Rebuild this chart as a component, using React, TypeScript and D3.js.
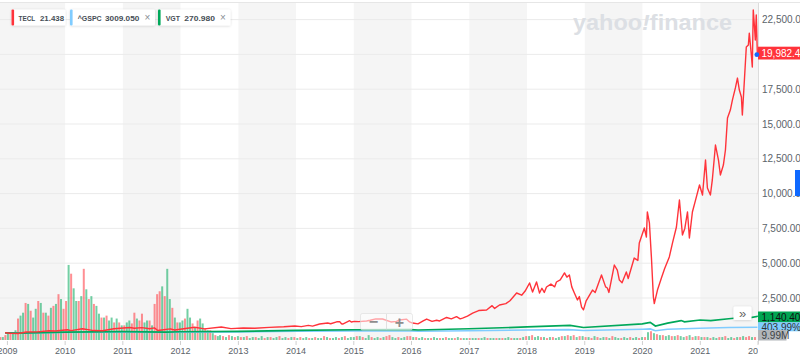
import React from 'react';
import * as d3 from 'd3';

// ---------- DATA ----------
const yearTicks = [2009, 2010, 2011, 2012, 2013, 2014, 2015, 2016, 2017, 2018, 2019, 2020, 2021, 2022];
const yTickValues = [2500, 5000, 7500, 10000, 12500, 15000, 17500, 20000, 22500];

const legendNames = ['TECL', '^GSPC', 'VGT'];
const legendValues = ['21.438', '3009.050', '270.980'];

// % change series
const tecl: [string, number][] = [
  ['2008-12-17', 0], ['2009-01-20', -30], ['2009-03-09', -50], ['2009-05-01', 60], ['2009-07-10', 70],
  ['2009-09-20', 150], ['2009-11-01', 130], ['2010-01-15', 220], ['2010-02-08', 160], ['2010-04-20', 290],
  ['2010-07-01', 160], ['2010-08-25', 150], ['2010-11-05', 290], ['2011-02-15', 380], ['2011-03-15', 330],
  ['2011-05-01', 370], ['2011-06-20', 290], ['2011-07-20', 350], ['2011-08-10', 170], ['2011-10-28', 280],
  ['2011-11-25', 200], ['2012-03-30', 400], ['2012-06-01', 280], ['2012-09-15', 420], ['2012-11-15', 300],
  ['2013-02-01', 350], ['2013-04-15', 330], ['2013-07-15', 390], ['2013-10-15', 430], ['2013-12-24', 490],
  ['2014-02-03', 440], ['2014-03-20', 530], ['2014-04-15', 480], ['2014-05-30', 630], ['2014-07-20', 700],
  ['2014-08-08', 650], ['2014-09-15', 790], ['2014-10-04', 800], ['2014-10-15', 650], ['2014-10-23', 630],
  ['2014-12-06', 870], ['2014-12-16', 780], ['2015-01-05', 820], ['2015-02-01', 800], ['2015-03-23', 850],
  ['2015-04-15', 900], ['2015-05-20', 1000], ['2015-07-02', 990], ['2015-08-24', 780], ['2015-09-28', 820],
  ['2015-10-18', 920], ['2015-12-01', 980], ['2015-12-20', 780], ['2016-01-08', 700], ['2016-02-11', 640],
  ['2016-03-15', 850], ['2016-04-06', 990], ['2016-05-10', 820], ['2016-06-08', 900], ['2016-06-27', 850],
  ['2016-08-10', 1100], ['2016-09-09', 1000], ['2016-10-12', 1160], ['2016-11-04', 1000], ['2016-11-19', 1060],
  ['2016-12-20', 1200], ['2017-01-22', 1420], ['2017-03-01', 1600], ['2017-04-20', 1640], ['2017-05-25', 1950],
  ['2017-06-10', 1750], ['2017-07-11', 2000], ['2017-08-20', 2100], ['2017-09-15', 2300], ['2017-10-27', 2860],
  ['2017-11-28', 2700], ['2017-12-20', 3000], ['2018-01-17', 3580], ['2018-02-05', 2930], ['2018-03-02', 3650],
  ['2018-03-21', 2860], ['2018-04-05', 3200], ['2018-04-20', 2900], ['2018-05-04', 3290], ['2018-06-01', 3500],
  ['2018-06-25', 3300], ['2018-07-06', 3650], ['2018-07-30', 3800], ['2018-08-26', 4300], ['2018-09-10', 4000],
  ['2018-09-26', 4150], ['2018-10-11', 3300], ['2018-10-26', 2900], ['2018-11-16', 2360], ['2018-11-28', 2600],
  ['2018-12-12', 1850], ['2018-12-24', 1650], ['2019-01-10', 2300], ['2019-02-19', 3070], ['2019-03-08', 2900],
  ['2019-04-17', 4150], ['2019-05-13', 3300], ['2019-05-24', 3220], ['2019-06-03', 2900], ['2019-07-07', 4870],
  ['2019-07-26', 4500], ['2019-08-08', 3790], ['2019-08-25', 3600], ['2019-09-21', 4370], ['2019-10-03', 3900],
  ['2019-11-10', 5370], ['2019-12-03', 5200], ['2019-12-12', 6450], ['2020-01-13', 7530], ['2020-01-26', 6880],
  ['2020-02-01', 8680], ['2020-02-14', 7900], ['2020-02-27', 5370], ['2020-03-10', 2600], ['2020-03-16', 2100],
  ['2020-04-05', 3070], ['2020-04-30', 3940], ['2020-05-20', 4600], ['2020-06-19', 5450], ['2020-07-10', 6500],
  ['2020-08-03', 7600], ['2020-08-22', 9540], ['2020-09-10', 7030], ['2020-09-25', 7500], ['2020-10-12', 8680],
  ['2020-10-24', 6810], ['2020-11-12', 8680], ['2020-12-01', 9500], ['2020-12-27', 10620], ['2021-01-15', 9900],
  ['2021-02-03', 12410], ['2021-02-15', 10400], ['2021-03-06', 9900], ['2021-03-18', 10980], ['2021-04-07', 13490],
  ['2021-04-26', 12410], ['2021-05-08', 11340], ['2021-05-27', 12050], ['2021-06-09', 13130], ['2021-06-22', 15430],
  ['2021-07-10', 16000], ['2021-07-23', 16720], ['2021-08-11', 17590], ['2021-08-24', 18300], ['2021-09-05', 17440],
  ['2021-09-18', 16940], ['2021-09-24', 15650], ['2021-10-07', 18160], ['2021-10-19', 20530], ['2021-11-01', 20670],
  ['2021-11-07', 21530], ['2021-11-20', 19950], ['2021-11-26', 19090], ['2021-12-02', 23190], ['2021-12-09', 22110],
  ['2021-12-15', 21030], ['2021-12-21', 22830], ['2021-12-28', 19982],
];

const gspc: [string, number][] = [
  ['2008-12-17', 0], ['2009-03-09', -25], ['2009-12-31', 26], ['2010-12-31', 42], ['2011-10-03', 23],
  ['2011-12-31', 42], ['2012-12-31', 62], ['2013-12-31', 114], ['2014-12-31', 135], ['2015-12-31', 133],
  ['2016-02-11', 110], ['2016-12-31', 150], ['2017-12-31', 200], ['2018-09-20', 230], ['2018-12-24', 165],
  ['2019-12-31', 260], ['2020-02-19', 280], ['2020-03-23', 150], ['2020-06-08', 250], ['2020-12-31', 325],
  ['2021-06-30', 385], ['2021-12-28', 404],
];

const vgt: [string, number][] = [
  ['2008-12-17', 0], ['2009-03-09', -20], ['2009-12-31', 50], ['2010-12-31', 80], ['2011-10-03', 55],
  ['2011-12-31', 75], ['2012-12-31', 105], ['2013-12-31', 170], ['2014-12-31', 220], ['2015-12-31', 235],
  ['2016-02-11', 200], ['2016-12-31', 290], ['2017-12-31', 420], ['2018-09-30', 530], ['2018-12-24', 380],
  ['2019-12-31', 640], ['2020-02-19', 750], ['2020-03-23', 490], ['2020-06-08', 700], ['2020-09-02', 880],
  ['2020-09-23', 790], ['2020-12-31', 920], ['2021-03-08', 880], ['2021-06-30', 1010], ['2021-09-03', 1080],
  ['2021-10-04', 1000], ['2021-12-27', 1170], ['2021-12-28', 1140],
];

// volume (millions); sign = day direction (+ up / - down)
const volumeEarlyStart = '2008-11-17';
const volumeEarlyStepDays = 16;
const volumeEarly = [
  -3, 3, -5, 7, -7, 8, 10, -22, 25, 28, -38, 37, -30, 23, 32, -40, 38, -28, 28, -25,
  33, -35, 37, -47, 42, -32, -40, 77, -68, 53, 40, -40, 45, -73, 52, -42, 45, -37, 35, 27,
  -23, 23, -25, 20, 23, -18, 22, -18, 15, -15, 18, 20, -17, -28, 22, -20, -27, 18, 20, -20,
  15, -37, -47, -50, 55, -45, 73, 42, -33, 23, -18, 18, 20, -22, 32, 23, -17, 13, -20, 22,
  17, -12, 10, -10, 7, -5, 4,
];
const volumeLateStart = '2012-09-07';
const volumeLateStepDays = 18.8;
const volumeLate = [
  5, -4, 3, -5, 4, -3, 4,
  -3, 3, -4, 2, 3, -3, 2, 4, -2, 3, -3, 2, 3, -4, 2, 3, -2, 3, -3,
  2, -3, 2, 3, -2, 2, -3, 2, 2, -4, 3, -2, 2, 3, -2, 3, -4, 2, 3,
  3, -4, 4, -3, 2, 5, -3, 2, 3, -2, 3, -4, -5, 3, 2, -3, 2, 3, -4,
  -4, 3, -3, 2, 3, -2, 2, -2, 3, 2, -2, 2, -3, 2, 2, -2, 3, -2, 2,
  2, -2, 2, 2, -2, 2, 3, -2, 2, 2, -2, 2, -2, 2, 3, -2, 2, 2, -2, 3,
  -4, 4, -5, 3, 4, -3, 3, -2, 3, -3, 2, 3, -4, 4, -5, 4, -5, 3, -4,
  4, -3, 3, -2, 4, -3, 2, 3, -3, 2, -4, 3, 2, -2, 3, 2, -3, 2, 3, -2,
  3, -3, 8, -9, 7, -6, 5, -5, 4, 5, -4, 4, -5, 4, 3, -4, 5, -3, 4,
  -4, 3, -3, 3, -2, 3, 2, -3, 3, -4, 2, 3, -2, 3, -3, 4, -3, -4, 3, -3,
];

const lastLabels = { tecl: '19,982.40', vgt: '1,140.40', gspc: '403.99%', volume: '9.99M' };

// ---------- LAYOUT ----------
const W = 800;
const H = 362;
const plotLeft = 0;
const plotRight = 758;
const plotTop = 3;
const plotBottom = 340;

const COLORS = {
  tecl: '#ff333a',
  gspc: '#80ccff',
  vgt: '#00a85a',
  band: '#f5f5f5',
  grid: '#ebebeb',
  axisText: '#5b636a',
};

const FONT = '"Liberation Sans", Arial, Helvetica, sans-serif';

export default function App() {
  const parse = d3.timeParse('%Y-%m-%d');
  const x = d3
    .scaleTime()
    .domain([parse('2008-11-15') as Date, parse('2022-01-01') as Date])
    .range([plotLeft, plotRight]);
  const y = d3.scaleLinear().domain([0, 22500]).range([332.8, 19.6]);
  const vol = d3.scaleLinear().domain([0, 80]).range([0, 78]);

  const line = d3
    .line<[string, number]>()
    .x((d) => x(parse(d[0]) as Date))
    .y((d) => y(d[1]))
    .curve(d3.curveLinear);

  const earlyStart = (parse(volumeEarlyStart) as Date).getTime();
  const lateStart = (parse(volumeLateStart) as Date).getTime();
  const volBars = [
    ...volumeEarly.map((v, i) => ({ t: new Date(earlyStart + i * volumeEarlyStepDays * 864e5), v })),
    ...volumeLate.map((v, i) => ({ t: new Date(lateStart + i * volumeLateStepDays * 864e5), v })),
  ];

  const yearDates = yearTicks.map((yr) => new Date(yr, 0, 1));
  const bands: [number, number][] = [];
  const bounds = [x.domain()[0], ...yearDates.slice(1), x.domain()[1]];
  for (let i = 0; i < bounds.length - 1; i += 2) {
    bands.push([x(bounds[i]), Math.min(x(bounds[i + 1]), plotRight)]);
  }

  const legendColors = [COLORS.tecl, COLORS.gspc, COLORS.vgt];
  const legendBoxes = [
    { x: 11.5, w: 54, nameX: 18.5, nameW: 16.7, valX: 40, valW: 24, close: false },
    { x: 70, w: 85, nameX: 77.7, nameW: 24, valX: 105, valW: 34.3, close: true },
    { x: 158, w: 72.5, nameX: 165.7, nameW: 14.3, valX: 184.3, valW: 30.7, close: true },
  ];

  return (
    <svg
      width={W}
      height={H}
      style={{ position: 'absolute', left: 0, top: 0, background: '#fff' }}
      fontFamily={FONT}
    >
      <defs>
        <clipPath id="plot">
          <rect x={plotLeft} y={plotTop} width={plotRight - plotLeft} height={plotBottom - plotTop} />
        </clipPath>
        <clipPath id="xlab">
          <rect x={0} y={340} width={plotRight} height={22} />
        </clipPath>
        <filter id="sh" x="-10%" y="-30%" width="120%" height="160%">
          <feDropShadow dx="0" dy="0.5" stdDeviation="0.8" floodColor="#000" floodOpacity="0.18" />
        </filter>
      </defs>

      {bands.map(([a, b], i) => (
        <rect key={i} x={a} y={plotTop} width={b - a} height={plotBottom - plotTop} fill={COLORS.band} />
      ))}

      <line x1={0} x2={W} y1={2.5} y2={2.5} stroke="#e6e6e6" strokeWidth={1} />

      {yTickValues.map((v) => (
        <line key={v} x1={plotLeft} x2={plotRight} y1={y(v)} y2={y(v)} stroke={COLORS.grid} strokeWidth={1} />
      ))}

      <text x={573} y={30} fontSize={22.5} fontWeight={700} fill="#dcdfe4" textLength={159} lengthAdjust="spacingAndGlyphs">
        yahoo<tspan fontStyle="italic">!</tspan>finance
      </text>

      <line x1={plotRight + 0.5} x2={plotRight + 0.5} y1={plotTop} y2={plotBottom + 4} stroke="#dcdcdc" strokeWidth={1} />

      <g clipPath="url(#plot)">
        {volBars.map((d, i) => {
          const h = vol(Math.abs(d.v));
          return (
            <rect
              key={i}
              x={x(d.t) - 1}
              y={plotBottom - h}
              width={2}
              height={h}
              fill={d.v >= 0 ? 'rgba(0,168,90,0.55)' : 'rgba(255,51,58,0.55)'}
            />
          );
        })}
        <path d={line(gspc) || ''} fill="none" stroke={COLORS.gspc} strokeWidth={1.6} />
        <path d={line(vgt) || ''} fill="none" stroke={COLORS.vgt} strokeWidth={1.7} />
        <path d={line(tecl) || ''} fill="none" stroke={COLORS.tecl} strokeWidth={1.4} strokeLinejoin="round" />
      </g>

      {yearDates.map((d, i) => (
        <line key={'t' + i} x1={x(d)} x2={x(d)} y1={341} y2={345} stroke="#d0d0d0" strokeWidth={1} />
      ))}
      <g clipPath="url(#xlab)">
        {yearDates.map((d, i) => (
          <text key={i} x={x(d)} y={353.5} fontSize={9} fill={COLORS.axisText} textAnchor="middle">
            {yearTicks[i]}
          </text>
        ))}
      </g>

      {yTickValues.map((v) => (
        <text key={v} x={762} y={y(v) + 3.5} fontSize={10} fill={COLORS.axisText}>
          {d3.format(',.2f')(v)}
        </text>
      ))}

      <rect x={758} y={46.7} width={42} height={12.8} fill={COLORS.tecl} />
      <text x={761.5} y={56.7} fontSize={10} fill="#fff">{lastLabels.tecl}</text>
      <circle cx={x(parse(tecl[tecl.length - 1][0]) as Date) - 0.5} cy={y(tecl[tecl.length - 1][1])} r={2.4} fill="#0f69ff" />

      <rect x={758} y={311.5} width={42} height={11} fill="#00a552" />
      <text x={761.5} y={320.6} fontSize={10} fill="#111">{lastLabels.vgt}</text>
      <rect x={758} y={322.3} width={42} height={9} fill="#80ccff" />
      <text x={761.5} y={330.5} fontSize={10} fill="#333">{lastLabels.gspc}</text>
      <rect x={758} y={330} width={28.5} height={10.5} fill="#b1b5ba" />
      <text x={761.5} y={338.8} fontSize={10} fill="#3b3f44">{lastLabels.volume}</text>

      <rect x={795} y={170} width={5} height={26} fill="#0f69ff" />

      <rect x={733.5} y={306.5} width={18} height={13.5} rx={1.5} fill="#fff" filter="url(#sh)" />
      <text x={742.5} y={317.5} fontSize={13} fill="#666" textAnchor="middle">»</text>

      <rect x={360.5} y={313.5} width={52} height={16.5} rx={2} fill="rgba(255,255,255,0.55)" stroke="rgba(220,220,220,0.8)" strokeWidth={0.8} />
      <line x1={386.5} x2={386.5} y1={314} y2={329.5} stroke="rgba(215,215,215,0.9)" strokeWidth={0.8} />
      <text x={373.5} y={327} fontSize={16} fontWeight={700} fill="#8d8d8d" textAnchor="middle">−</text>
      <text x={399.5} y={327.5} fontSize={16} fontWeight={700} fill="#8d8d8d" textAnchor="middle">+</text>

      {legendBoxes.map((b, i) => (
        <g key={i}>
          <rect x={b.x} y={9.5} width={b.w} height={16} rx={1.5} fill="#fff" filter="url(#sh)" />
          <rect x={b.x} y={9.5} width={2.6} height={16} rx={1} fill={legendColors[i]} />
          <text x={b.nameX} y={20.8} fontSize={8} fontWeight={700} fill="#464e56" textLength={b.nameW} lengthAdjust="spacingAndGlyphs">{legendNames[i]}</text>
          <text x={b.valX} y={20.8} fontSize={8} fontWeight={700} fill="#464e56" textLength={b.valW} lengthAdjust="spacingAndGlyphs">{legendValues[i]}</text>
          {b.close && (
            <text x={b.x + b.w - 7.5} y={21} fontSize={10} fill="#8a8f95" textAnchor="middle">×</text>
          )}
        </g>
      ))}
    </svg>
  );
}
